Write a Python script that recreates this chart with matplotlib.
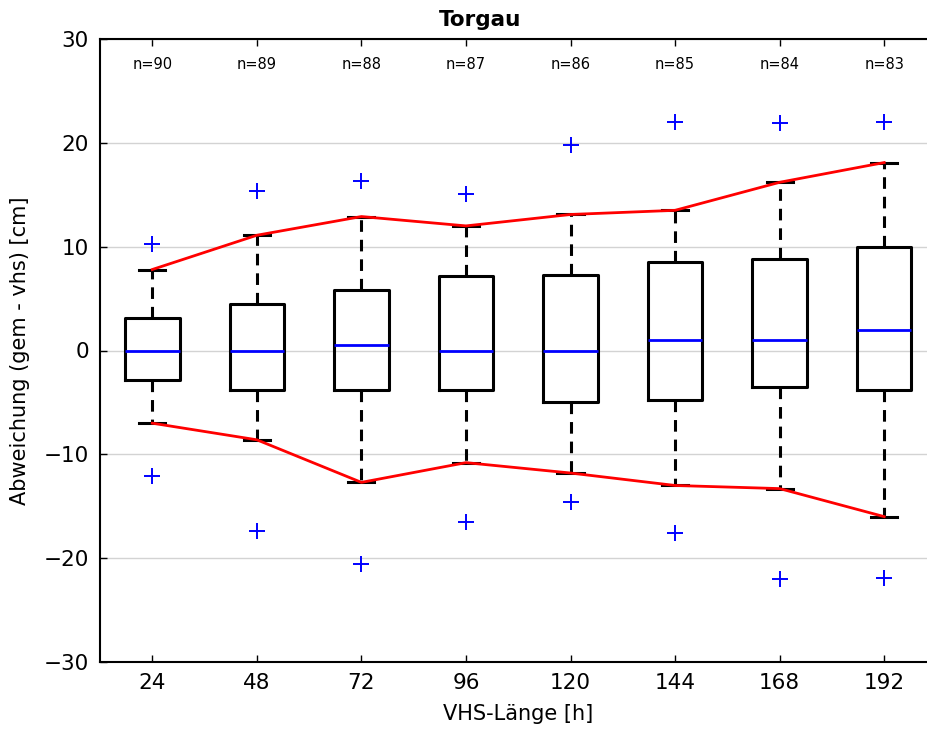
import matplotlib
matplotlib.use("Agg")
import matplotlib.pyplot as plt

hours = [24, 48, 72, 96, 120, 144, 168, 192]
counts = [90, 89, 88, 87, 86, 85, 84, 83]
medians = [0.0, 0.0, 0.5, 0.0, 0.0, 1.0, 1.0, 2.0]
q1 = [-2.8, -3.8, -3.8, -3.8, -5.0, -4.8, -3.5, -3.8]
q3 = [3.1, 4.5, 5.8, 7.2, 7.3, 8.5, 8.8, 10.0]
whis_lo = [-7.0, -8.6, -12.7, -10.8, -11.8, -13.0, -13.3, -16.0]
whis_hi = [7.8, 11.1, 12.9, 12.0, 13.1, 13.5, 16.2, 18.1]
flier_hi = [10.3, 15.4, 16.3, 15.1, 19.8, 22.0, 21.9, 22.0]
flier_lo = [-12.1, -17.4, -20.6, -16.5, -14.6, -17.6, -22.0, -21.9]

stats = []
for i in range(len(hours)):
    stats.append(dict(med=medians[i], q1=q1[i], q3=q3[i],
                      whislo=whis_lo[i], whishi=whis_hi[i],
                      fliers=[flier_hi[i], flier_lo[i]], label=str(hours[i])))

fig = plt.figure(figsize=(9.27, 7.29), dpi=100)
ax = fig.add_axes([100/927, 67/729, (936.5-100)/927, 623/729])

ax.yaxis.grid(True, color='#d3d3d3', linewidth=1, zorder=0)
ax.set_axisbelow(True)

ax.bxp(stats, positions=hours, widths=12.5, capwidths=6,
       boxprops=dict(color='black', linewidth=2.2),
       whiskerprops=dict(color='black', linewidth=2.2, linestyle=(0, (3.8, 2.6))),
       capprops=dict(color='black', linewidth=2.2),
       medianprops=dict(color='blue', linewidth=2),
       flierprops=dict(marker='+', markeredgecolor='blue', markersize=11,
                       markeredgewidth=1.4, linestyle='none'))

ax.plot(hours, whis_hi, color='red', linewidth=2, zorder=5)
ax.plot(hours, whis_lo, color='red', linewidth=2, zorder=5)

for h, n in zip(hours, counts):
    ax.text(h, 27.5, f"n={n}", ha='center', va='center', fontsize=10.5)

ax.set_xlim(12, 204)
ax.set_ylim(-30, 30)
ax.set_yticks([-30, -20, -10, 0, 10, 20, 30])
ax.set_xticks(hours)
ax.set_xticklabels([str(h) for h in hours])
ax.tick_params(axis='both', direction='in', length=5, width=1, labelsize=15.5,
               top=True, right=True)
ax.tick_params(axis='x', pad=8)
ax.tick_params(axis='y', pad=8)
for s in ax.spines.values():
    s.set_linewidth(1.5)

ax.set_xlabel("VHS-Länge [h]", fontsize=15, labelpad=8)
ax.set_ylabel("Abweichung (gem - vhs) [cm]", fontsize=15, labelpad=10)
ax.set_title("Torgau", fontsize=15.5, fontweight='bold', pad=9,
             x=(480 - 100) / 836.5)

fig.savefig("out.png", dpi=100)
